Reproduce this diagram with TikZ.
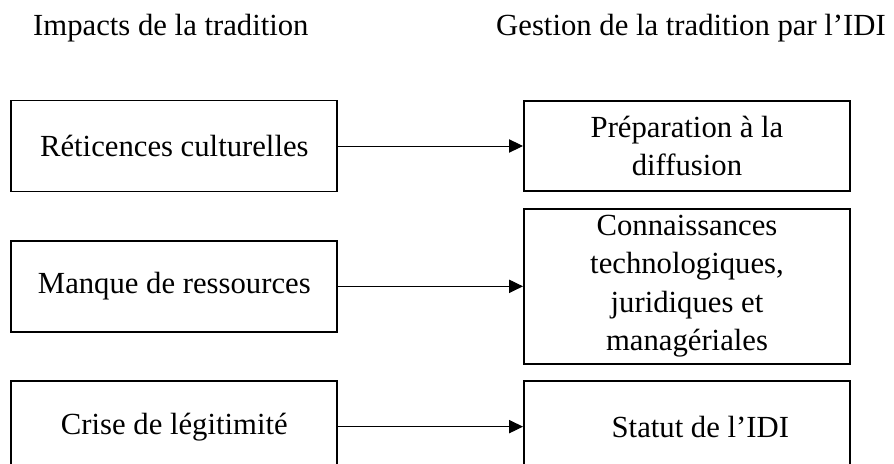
\documentclass[tikz,border=0pt]{standalone}
\usepackage{fontspec}
\setmainfont{Liberation Serif}
\usetikzlibrary{arrows.meta, positioning}
\tikzstyle{impactbox} = [rectangle, draw=black, line width=1.7pt, minimum width=9.78cm,
                         minimum height=2.73cm, inner sep=0pt, align=center]
\tikzstyle{gestionbox} = [rectangle, draw=black, line width=1.7pt, minimum width=9.78cm,
                          minimum height=2.72cm, inner sep=0pt, align=center]
\tikzstyle{titletext} = [anchor=base west, inner sep=0pt]
\tikzstyle{arrow} = [line width=0.85pt, -{Triangle[length=0.42cm, width=0.4cm]}, black]

\begin{document}
\begin{tikzpicture}[node distance=1.42cm and 5.54cm,
    font=\fontsize{26.2}{32.9}\selectfont]
    \useasboundingbox (0,0) rectangle (26.82,-13.92);
    \clip (0,0) rectangle (26.82,-13.92);

    % Titres
    \node[titletext] (impacts) at (0.99,-1.08) {Impacts de la tradition};
    \node[titletext] (gestion) at (14.88,-1.08) {Gestion de la tradition par l’IDI};

    % Colonne gauche : impacts
    \node[impactbox] (reticences) at (5.23,-4.38) {Réticences culturelles};
    \node[impactbox, below=of reticences] (ressources) {Manque de ressources};
    \node[impactbox, below=of ressources] (crise) {Crise de légitimité};

    % Colonne droite : gestion
    \node[gestionbox, right=of reticences] (preparation) {Préparation à la\\diffusion};
    \node[gestionbox, right=of ressources, minimum height=4.65cm] (connaissances)
        {Connaissances\\technologiques,\\juridiques et\\managériales};
    \node[gestionbox, right=of crise, minimum height=2.73cm] (statut) {\hspace*{0.8cm}Statut de l’IDI};

    % Fleches
    \draw[arrow] (reticences) -- (preparation);
    \draw[arrow] (ressources) -- (connaissances);
    \draw[arrow] (crise) -- (statut);
\end{tikzpicture}
\end{document}
